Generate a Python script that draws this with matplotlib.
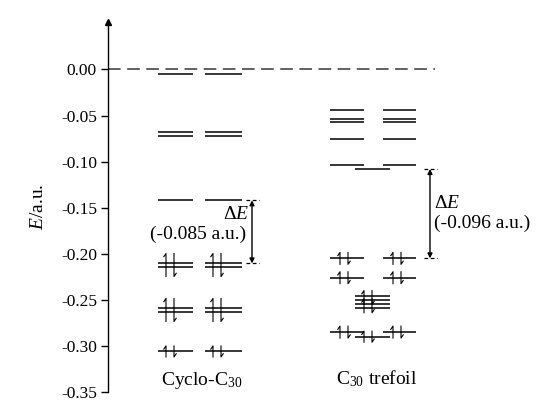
import matplotlib
matplotlib.use("Agg")
import matplotlib.pyplot as plt

plt.rcParams["font.family"] = ["Liberation Serif", "DejaVu Serif"]
plt.rcParams["mathtext.fontset"] = "custom"
plt.rcParams["mathtext.rm"] = "Liberation Serif"
plt.rcParams["mathtext.it"] = "Liberation Serif:italic"

# orbital energies (a.u.)
cyclo_unocc = [-0.005, -0.068, -0.0722, -0.142]
cyclo_occ = [-0.2105, -0.2140, -0.2593, -0.2627, -0.306]
cyclo_pairs = [(-0.2122, 0.0105), (-0.261, 0.0105), (-0.306, 0.004)]

tref_side_unocc = [-0.044, -0.054, -0.057, -0.0758, -0.1033]
tref_mid_unocc = [-0.108]
tref_side_occ = [-0.205, -0.226, -0.285]
tref_mid_occ = [-0.246, -0.250, -0.254, -0.259, -0.290]
tref_side_pairs = [(-0.205, 0.0045), (-0.226, 0.0045), (-0.285, 0.0045)]
tref_mid_pairs = [(-0.2475, 0.0055), (-0.2565, 0.0055), (-0.290, 0.004)]

cyclo_gap = (-0.142, -0.2105)
tref_gap = (-0.108, -0.205)

yticks = [0.00, -0.05, -0.10, -0.15, -0.20, -0.25, -0.30, -0.35]

# layout (horizontal units = pixels from the y axis)
cyc_cols = [(50, 85), (97, 134)]
tref_cols = [(222, 256), (275, 308)]
tref_mid = (247, 282)

fig = plt.figure(figsize=(5.4, 4.03), dpi=100)
ax = fig.add_axes([108 / 540, 11 / 403, 432 / 540, 370 / 403])
ax.set_xlim(0, 432)
ax.set_ylim(-0.35, 0.0515)

for s in ["top", "right", "bottom"]:
    ax.spines[s].set_visible(False)
ax.spines["left"].set_linewidth(1.0)
ax.plot(0, 1, marker="^", color="k", markersize=4, transform=ax.transAxes, clip_on=False)
ax.set_xticks([])
ax.set_yticks(yticks)
ax.set_yticklabels([f"{v:.2f}" for v in yticks], fontsize=12.5)
ax.tick_params(axis="y", direction="out", length=5, width=1, pad=3)
ax.set_ylabel("$E$/a.u.", fontsize=14, labelpad=10)

ax.plot([0, 327], [0, 0], color="#555555", lw=1.3, dashes=(7, 3.6))

lw = 1.1


def levels(cols, energies):
    for x0, x1 in cols:
        for e in energies:
            ax.plot([x0, x1], [e, e], color="k", lw=lw, solid_capstyle="butt")


def pair(x, y0, h):
    bw, bh = 2.2, 0.0035
    # spin up
    ax.plot([x, x, x - bw], [y0 - h - 0.002, y0 + h + 0.002, y0 + h + 0.002 - bh], color="k", lw=0.8)
    # spin down
    x2 = x + 8
    ax.plot([x2, x2, x2 + bw], [y0 + h + 0.002, y0 - h - 0.002, y0 - h - 0.002 + bh], color="k", lw=0.8)


levels(cyc_cols, cyclo_unocc + cyclo_occ)
for (x0, x1) in cyc_cols:
    for y0, h in cyclo_pairs:
        pair(x0 + 8, y0, h)

levels(tref_cols, tref_side_unocc + tref_side_occ)
levels([tref_mid], tref_mid_unocc + tref_mid_occ)
for (x0, x1) in tref_cols:
    for y0, h in tref_side_pairs:
        pair(x0 + 10, y0, h)
for y0, h in tref_mid_pairs:
    pair(tref_mid[0] + 9, y0, h)


def gap_arrow(x, top, bot):
    ax.annotate("", xy=(x, bot), xytext=(x, top),
                arrowprops=dict(arrowstyle="<|-|>", color="k", lw=1.0,
                                mutation_scale=7, shrinkA=0, shrinkB=0))
    for e in (top, bot):
        ax.plot([x - 6, x + 7], [e, e], color="k", lw=0.9, dashes=(3, 2))


gap_arrow(144, *cyclo_gap)
ax.text(141, -0.1575, r"Δ$E$", fontsize=14, ha="right", va="center")
ax.text(90, -0.179, "(-0.085 a.u.)", fontsize=14, ha="center", va="center")

gap_arrow(322, *tref_gap)
ax.text(326, -0.145, r"Δ$E$", fontsize=14, ha="left", va="center")
ax.text(326, -0.1665, "(-0.096 a.u.)", fontsize=14, ha="left", va="center")

ax.text(94, -0.337, "Cyclo-C$_{30}$", fontsize=14, ha="center", va="center")
ax.text(269, -0.335, "C$_{30}$ trefoil", fontsize=14, ha="center", va="center")

fig.savefig("out.png", dpi=100)
